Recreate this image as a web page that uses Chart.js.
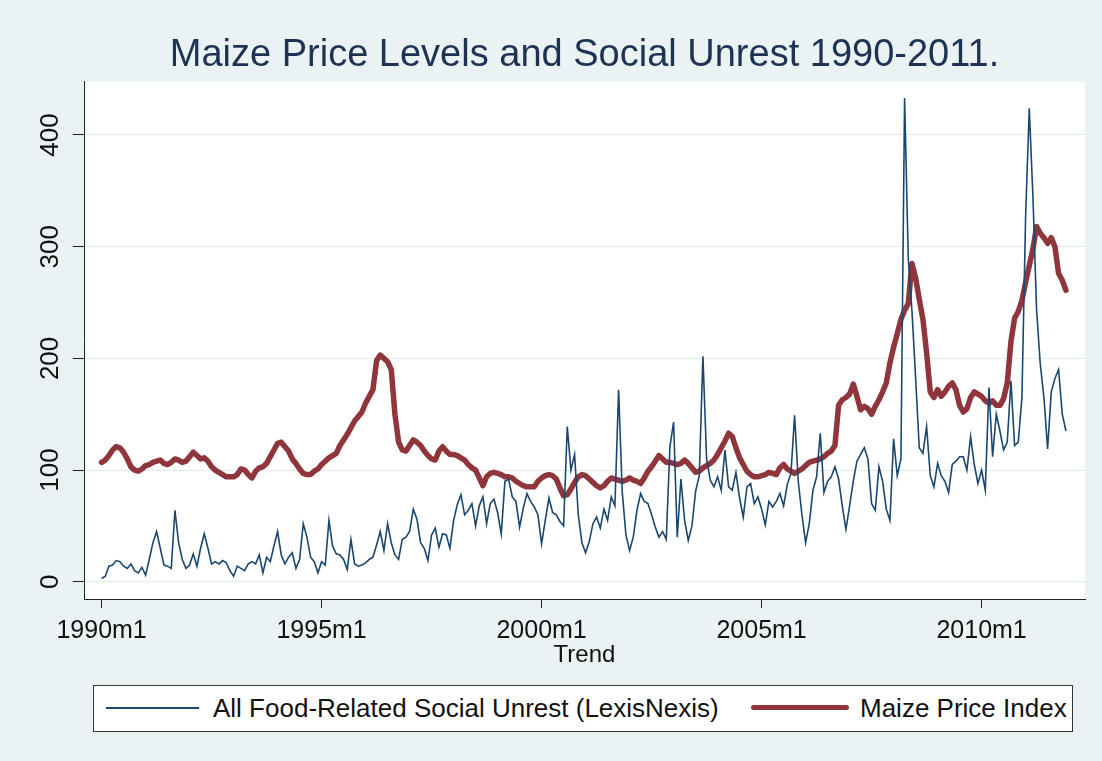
<!DOCTYPE html>
<html>
<head>
<meta charset="utf-8">
<script src="https://cdn.jsdelivr.net/npm/chart.js@4.4.1/dist/chart.umd.min.js"></script>
<style>
  html, body { margin: 0; padding: 0; background: #ffffff; }
  #wrap { position: relative; width: 1102px; height: 761px; background: #eaf2f3; overflow: hidden; font-family: Arial, "Liberation Sans", sans-serif; }
  #chart { position: absolute; left: 0; top: 0; }
  #legend { position: absolute; left: 93px; top: 685px; width: 980px; height: 47px; box-sizing: border-box;
            border: 1.5px solid #333; background: #fff; }
  #legend .sw { position: absolute; }
  #legend .txt { position: absolute; top: 0; line-height: 44px; font-size: 26px; color: #111; white-space: nowrap; }
</style>
</head>
<body>
<div id="wrap">
  <canvas id="chart" width="1102" height="761"></canvas>
  <div id="legend">
    <div class="sw" style="left:12px; top:21px; width:93px; height:2px; background:#1a476f;"></div>
    <span class="txt" style="left:119px;">All Food-Related Social Unrest (LexisNexis)</span>
    <div class="sw" style="left:657px; top:19px; width:98px; height:5px; border-radius:3px; background:#90353b;"></div>
    <span class="txt" style="left:766px;">Maize Price Index</span>
  </div>
</div>
<script>
// monthly series, 1990m1 .. 2011m12 (264 months)
const unrest = [
  3, 5, 14, 15, 19, 18, 14, 12, 16, 10, 8, 13, 6, 20, 35, 45, 30, 15, 14, 12, 64, 35, 20, 12, 15, 25, 14, 30, 43,
  30, 16, 18, 16, 19, 17, 10, 5, 14, 12, 10, 16, 18, 16, 24, 8, 22, 18, 32, 45, 24, 16, 22, 26, 12, 20, 52, 40, 22, 18,
  8, 18, 15, 55, 32, 25, 24, 20, 11, 38, 16, 14, 15, 17, 20, 22, 33, 45, 28, 52, 35, 24, 20, 38, 40, 45, 65, 56, 35, 30,
  19, 42, 48, 31, 43, 42, 30, 55, 69, 78, 60, 64, 70, 50, 68, 76, 52, 70, 74, 62, 43, 90, 92, 76, 72, 49, 66, 79, 72, 67,
  60, 34, 55, 75, 62, 60, 54, 50, 139, 100, 114, 60, 35, 26, 36, 52, 58, 48, 65, 55, 76, 68, 172, 80, 42, 28, 40, 64, 79, 72,
  70, 60, 49, 40, 45, 38, 121, 143, 40, 92, 55, 37, 50, 81, 95, 202, 110, 91, 85, 94, 82, 118, 85, 82, 98, 75, 58, 85, 88, 70,
  76, 65, 51, 72, 67, 72, 79, 68, 87, 97, 149, 90, 60, 35, 52, 82, 94, 133, 80, 90, 94, 103, 92, 68, 47, 68, 90, 108, 114, 120,
  110, 70, 64, 103, 90, 65, 55, 128, 95, 110, 433, 290, 243, 183, 120, 115, 139, 95, 85, 106, 95, 90, 80, 105, 108, 112, 112, 100, 130, 105,
  88, 100, 82, 174, 112, 150, 135, 118, 125, 180, 122, 125, 165, 327, 424, 345, 243, 195, 165, 119, 170, 182, 190, 150, 135
];
const maize = [
  107, 109, 113, 118, 121, 120, 116, 110, 103, 100, 99, 101, 104, 105, 107, 108, 109, 106, 105, 107, 110, 109, 107, 108, 112, 116, 113, 110, 111,
  108, 103, 100, 98, 96, 94, 94, 94, 96, 101, 100, 96, 93, 99, 102, 103, 106, 112, 118, 124, 125, 121, 117, 110, 106, 101, 97, 96, 96, 99,
  101, 105, 108, 111, 113, 115, 122, 127, 132, 138, 144, 148, 152, 160, 166, 172, 198, 203, 200, 197, 190, 150, 125, 118, 117, 122, 127, 125, 122, 117,
  113, 110, 109, 117, 121, 117, 114, 114, 113, 111, 109, 105, 102, 100, 93, 86, 94, 97, 98, 97, 96, 94, 94, 93, 90, 88, 86, 85, 85, 85,
  90, 93, 95, 96, 95, 92, 84, 77, 78, 83, 89, 94, 96, 95, 92, 89, 86, 84, 86, 90, 93, 92, 91, 90, 91, 93, 91, 90, 88, 93,
  99, 103, 108, 113, 110, 107, 107, 106, 105, 106, 109, 106, 102, 98, 99, 102, 104, 106, 109, 114, 120, 126, 133, 130, 120, 111, 105, 99, 96, 94,
  94, 95, 96, 98, 97, 96, 102, 105, 101, 99, 97, 99, 101, 104, 107, 108, 109, 110, 112, 115, 117, 122, 158, 163, 165, 168, 177, 166, 154, 157,
  155, 150, 157, 163, 170, 178, 196, 210, 222, 235, 243, 249, 285, 272, 253, 235, 205, 170, 165, 172, 166, 170, 175, 178, 172, 158, 152, 155, 165, 170,
  168, 166, 162, 160, 162, 158, 158, 164, 178, 215, 236, 242, 252, 268, 283, 298, 318, 312, 308, 303, 308, 300, 276, 270, 261
];
const xTicks = [0, 60, 120, 180, 240];
const xTickLabels = ['1990m1', '1995m1', '2000m1', '2005m1', '2010m1'];
const yTicks = [0, 100, 200, 300, 400];

const toPoints = arr => arr.map((v, i) => ({ x: i, y: v }));
const font = { family: 'Arial, "Liberation Sans", sans-serif', weight: 'normal' };

// white plot region on the grey-blue background
const plotBg = {
  id: 'plotBg',
  beforeDraw(chart) {
    const { ctx, chartArea: a } = chart;
    ctx.save();
    ctx.fillStyle = '#ffffff';
    ctx.fillRect(a.left, a.top, a.right - a.left, a.bottom - a.top);
    ctx.restore();
  }
};

new Chart(document.getElementById('chart'), {
  type: 'line',
  data: {
    datasets: [{
      label: 'All Food-Related Social Unrest (LexisNexis)',
      data: toPoints(unrest),
      borderColor: '#1a476f',
      borderWidth: 1.6,
      pointRadius: 0,
      tension: 0
    }, {
      label: 'Maize Price Index',
      data: toPoints(maize),
      borderColor: '#90353b',
      borderWidth: 5.5,
      borderJoinStyle: 'round',
      borderCapStyle: 'round',
      pointRadius: 0,
      tension: 0
    }]
  },
  options: {
    responsive: false,
    animation: false,
    layout: { padding: { left: 0, right: 17, top: 0, bottom: 91 } },
    plugins: {
      legend: { display: false },
      tooltip: { enabled: false },
      title: {
        display: true,
        fullSize: false, // centre over the plot region
        text: 'Maize Price Levels and Social Unrest 1990-2011.',
        color: '#1e3253',
        font: { ...font, size: 38 },
        padding: { top: 33, bottom: 3 }
      }
    },
    scales: {
      x: {
        type: 'linear',
        min: -4.8,
        max: 268.2,
        afterBuildTicks: s => { s.ticks = xTicks.map(v => ({ value: v })); },
        afterFit: s => { s.height = 71; },
        ticks: {
          callback: v => xTickLabels[xTicks.indexOf(v)],
          autoSkip: false, maxRotation: 0, padding: 8,
          color: '#111', font: { ...font, size: 25 }
        },
        grid: { drawOnChartArea: false, tickLength: 9, tickColor: '#222' },
        border: { color: '#222', width: 1 },
        title: { display: true, text: 'Trend', color: '#111', font: { ...font, size: 24 }, padding: { top: 0, bottom: 0 } }
      },
      y: {
        min: -15.4,
        max: 447.8,
        afterBuildTicks: s => { s.ticks = yTicks.map(v => ({ value: v })); },
        afterFit: s => { s.width = 84; },
        ticks: {
          minRotation: 90, maxRotation: 90, crossAlign: 'center', padding: 0,
          color: '#111', font: { ...font, size: 26 }
        },
        grid: { color: '#e3eced', lineWidth: 1, tickLength: 11, tickColor: '#222' },
        border: { color: '#222', width: 1 }
      }
    }
  },
  plugins: [plotBg]
});
</script>
</body>
</html>
